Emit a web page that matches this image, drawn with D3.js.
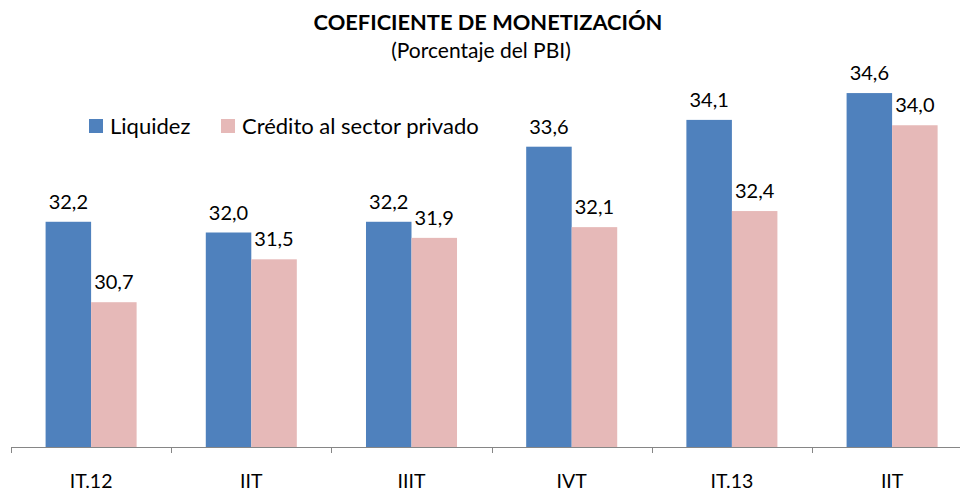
<!DOCTYPE html>
<html>
<head>
<meta charset="utf-8">
<script src="https://cdn.jsdelivr.net/npm/d3@7"></script>
<style>
	body { margin: 0; background: #fff; }
	text { font-family: Lato, "Open Sans", sans-serif; fill: #000; }
</style>
</head>
<body>
<svg id="fig-coef"></svg>
<script>

// DATA ========================================================================= //

var periods = ["IT.12", "IIT", "IIIT", "IVT", "IT.13", "IIT"],
	seriesNames = ["Liquidez", "Crédito al sector privado"],
	liquidez = [32.2, 32.0, 32.2, 33.6, 34.1, 34.6],
	credito = [30.7, 31.5, 31.9, 32.1, 32.4, 34.0],
	yDomain = [28, 36];

var cols = ["#4f81bd", "#e6b9b8"];

// SETUP ======================================================================== //

var width = 960,
	height = 493,
	m = [18, 0, 46, 11]; // top right bottom left

var svg = d3.select("#fig-coef")
	.attr("width", width)
	.attr("height", height);

// band per period; the sixth band runs past the right edge like the original
var xScale = d3.scaleBand()
	.domain(d3.range(periods.length))
	.range([m[3], m[3] + 160.2 * periods.length])
	.paddingInner(0)
	.paddingOuter(0);

var xInner = d3.scaleBand()
	.domain([0, 1])
	.range([0, xScale.bandwidth()])
	.paddingOuter(0.76)
	.paddingInner(0);

var yScale = d3.scaleLinear()
	.domain(yDomain)
	.range([height - m[2], m[0]]);

var rows = periods.map((p, i) => ({i: i, period: p, values: [liquidez[i], credito[i]]}));

// TITLE ======================================================================== //

svg.append("text")
	.attr("x", 488)
	.attr("y", 30)
	.attr("text-anchor", "middle")
	.attr("font-weight", "bold")
	.attr("font-size", 21.8)
	.text("COEFICIENTE DE MONETIZACIÓN");

svg.append("text")
	.attr("x", 481)
	.attr("y", 58)
	.attr("text-anchor", "middle")
	.attr("font-size", 21)
	.text("(Porcentaje del PBI)");

// LEGEND ======================================================================= //

var legend = svg.append("g")
	.attr("class", "legend")
	.selectAll("g")
	.data(seriesNames)
	.enter()
	.append("g")
	.attr("transform", (d, i) => `translate(${[89, 221][i]},119)`);

legend.append("rect")
	.attr("width", 14)
	.attr("height", 14)
	.attr("fill", (d, i) => cols[i]);

legend.append("text")
	.attr("x", 21)
	.attr("y", 15)
	.attr("font-size", 22)
	.text(d => d);

// BARS ========================================================================= //

var groups = svg.append("g")
	.attr("class", "bars")
	.selectAll("g")
	.data(rows)
	.enter()
	.append("g")
	.attr("transform", d => `translate(${xScale(d.i)},0)`);

groups.selectAll("rect")
	.data(d => d.values)
	.enter()
	.append("rect")
	.attr("x", (d, j) => xInner(j))
	.attr("y", d => yScale(d))
	.attr("width", xInner.bandwidth())
	.attr("height", d => yScale(yDomain[0]) - yScale(d))
	.attr("fill", (d, j) => cols[j]);

groups.selectAll("text")
	.data(d => d.values)
	.enter()
	.append("text")
	.attr("x", (d, j) => xInner(j) + xInner.bandwidth() / 2)
	.attr("y", d => yScale(d) - 13)
	.attr("text-anchor", "middle")
	.attr("font-size", 20)
	.text(d => d3.format(".1f")(d).replace(".", ","));

// AXIS ========================================================================= //

var base = yScale(yDomain[0]);
var axis = svg.append("g").attr("class", "axis");

axis.append("line")
	.attr("x1", m[3])
	.attr("x2", width)
	.attr("y1", base + 0.5)
	.attr("y2", base + 0.5)
	.attr("stroke", "#868686");

axis.selectAll("line.tick")
	.data(rows)
	.enter()
	.append("line")
	.attr("class", "tick")
	.attr("x1", d => Math.round(xScale(d.i)) + 0.5)
	.attr("x2", d => Math.round(xScale(d.i)) + 0.5)
	.attr("y1", base)
	.attr("y2", base + 6)
	.attr("stroke", "#868686");

axis.selectAll("text")
	.data(rows)
	.enter()
	.append("text")
	.attr("x", d => xScale(d.i) + xScale.bandwidth() / 2)
	.attr("y", base + 41)
	.attr("text-anchor", "middle")
	.attr("font-size", 19.5)
	.text(d => d.period);

</script>
</body>
</html>
